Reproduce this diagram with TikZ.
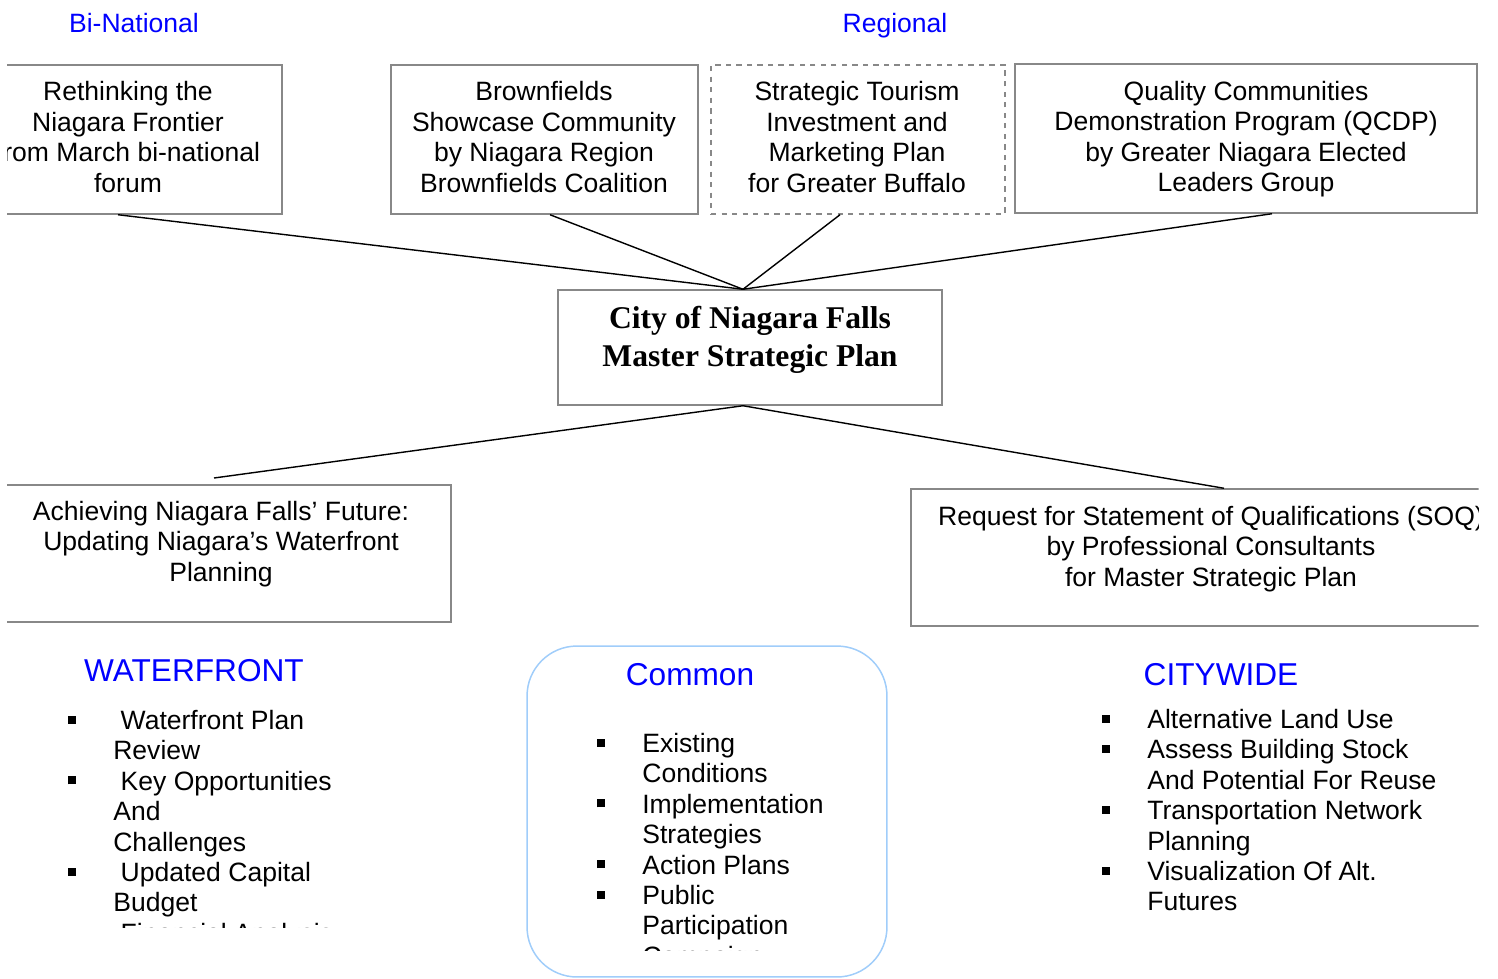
\documentclass[tikz,border=0pt]{standalone}
\usepackage{fontspec}
\setmainfont{Liberation Sans}
\newfontfamily\titlefont{Liberation Serif}
\usetikzlibrary{positioning}
\definecolor{headblue}{RGB}{0,0,255}
\definecolor{framegray}{RGB}{136,136,136}
\definecolor{roundblue}{RGB}{160,205,250}
\newlength{\bulind}\setlength{\bulind}{0.9cm}
\newcommand{\sqbul}{\makebox[\bulind][l]{\rule[0.12cm]{0.16cm}{0.16cm}}}
\newcommand{\lstind}{\hspace*{\bulind}}

\begin{document}
\begin{tikzpicture}[x=0.02cm,y=-0.02cm,
  frame/.style={draw=framegray,line width=0.85pt,inner sep=0pt},
  txt/.style={align=center,inner sep=0pt,font=\fontsize{15.1pt}{17.3pt}\selectfont},
  head/.style={anchor=base,inner sep=0pt,text=headblue,font=\fontsize{18pt}{21pt}\selectfont},
  side/.style={anchor=base,inner sep=0pt,text=headblue,font=\fontsize{15.1pt}{17.3pt}\selectfont},
  lst/.style={anchor=north west,align=left,inner sep=0pt,font=\fontsize{15.1pt}{17.3pt}\selectfont},
  link/.style={line width=0.8pt}]
\useasboundingbox (0,0) rectangle (1498,978);
\clip (7,0) rectangle (1478.5,978);

% Level labels
\node[side] (binat) at (134,32.5) {Bi-National};
\node[side] (region) at (895,32.5) {Regional};

% Source documents
\node[frame,minimum width=6.16cm,minimum height=2.98cm] (rethink) at (128,139.5) {};
\node[txt] (rethink-t) at (128,137) {Rethinking the\\Niagara Frontier\\from March bi-national\\forum};

\node[frame,minimum width=6.14cm,minimum height=2.98cm] (brown) at (544.5,139.5) {};
\node[txt] (brown-t) at (544,137) {Brownfields\\Showcase Community\\by Niagara Region\\Brownfields Coalition};

\node[frame,dashed,minimum width=5.88cm,minimum height=2.98cm] (tour) at (858,139.5) {};
\node[txt] (tour-t) at (857,137) {Strategic Tourism\\Investment and\\Marketing Plan\\for Greater Buffalo};

\node[frame,minimum width=9.24cm,minimum height=2.98cm] (qcdp) at (1246,138.5) {};
\node[txt] (qcdp-t) at (1246,139) {Quality Communities\\Demonstration Program (QCDP)\\by Greater Niagara Elected\\Leaders Group};

% Master plan
\node[frame,minimum width=7.68cm,minimum height=2.3cm] (hub) at (750,347.5) {};
\node[txt,font=\fontsize{18pt}{21.5pt}\titlefont\bfseries] (hub-t) at (750,340) {City of Niagara Falls\\Master Strategic Plan};

\draw[link] (rethink.south -| 118,0) -- (hub.north -| 743,0);
\draw[link] (brown.south -| 550,0) -- (hub.north -| 743,0);
\draw[link] (tour.south -| 840,0) -- (hub.north -| 743,0);
\draw[link] (qcdp.south -| 1272,0) -- (hub.north -| 743,0);

% Follow-up studies
\node[frame,minimum width=9.2cm,minimum height=2.74cm] (achieve) at (221,553.5) {};
\node[txt] (achieve-t) at (221,544) {Achieving Niagara Falls’ Future:\\Updating Niagara’s Waterfront\\Planning};

\node[frame,minimum width=11.88cm,minimum height=2.74cm] (soq) at (1208,557.5) {};
\node[txt] (soq-t) at (1211,549) {Request for Statement of Qualifications (SOQ)\\by Professional Consultants\\for Master Strategic Plan};

\coordinate (wf-end) at (214,478);
\draw[link] (hub.south -| 743,0) -- (wf-end);
\draw[link] (hub.south -| 743,0) -- (soq.north -| 1224,0);

% Waterfront
\node[head] (wf-h) at (194,681) {WATERFRONT};
\begin{scope}
\clip (0,600) rectangle (520,927);
\node[lst] (wf-l) at (68,710) {\sqbul\ Waterfront Plan\\
\lstind Review\\
\sqbul\ Key Opportunities\\
\lstind And\\
\lstind Challenges\\
\sqbul\ Updated Capital\\
\lstind Budget\\
\sqbul\ Financial Analysis};
\end{scope}

% Common
\node[draw=roundblue,line width=0.85pt,rounded corners=1cm,minimum width=7.2cm,minimum height=6.62cm] (common) at (707,811.5) {};
\node[head] (com-h) at (690,685.5) {Common};
\begin{scope}
\clip (530,700) rectangle (880,950);
\node[lst] (com-l) at (597,733) {\sqbul Existing\\
\lstind Conditions\\
\sqbul Implementation\\
\lstind Strategies\\
\sqbul Action Plans\\
\sqbul Public\\
\lstind Participation\\
\lstind Campaign};
\end{scope}

% Citywide
\node[head] (cw-h) at (1221,685.5) {CITYWIDE};
\node[lst] (cw-l) at (1102,709) {\sqbul Alternative Land Use\\
\sqbul Assess Building Stock\\
\lstind And Potential For Reuse\\
\sqbul Transportation Network\\
\lstind Planning\\
\sqbul Visualization Of Alt.\\
\lstind Futures};
\end{tikzpicture}
\end{document}
